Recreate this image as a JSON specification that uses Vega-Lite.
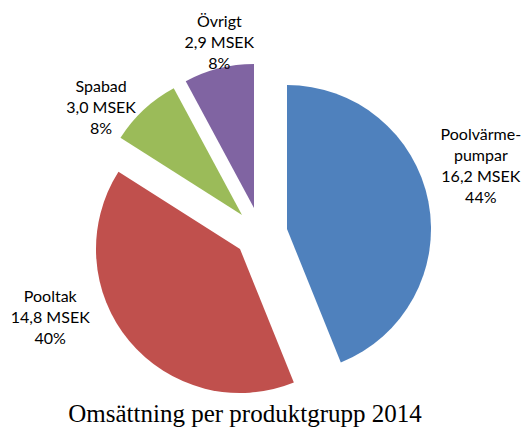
{
  "$schema": "https://vega.github.io/schema/vega-lite/v6.json",
  "width": 520,
  "height": 390,
  "autosize": {"type": "none"},
  "padding": {"left": 0, "top": 38, "right": 4, "bottom": 0},
  "background": "white",
  "view": {"stroke": null},
  "title": {
    "text": "Omsättning per produktgrupp 2014",
    "orient": "bottom",
    "frame": "group",
    "anchor": "middle",
    "offset": -6,
    "baseline": "alphabetic",
    "dx": -15,
    "font": "Liberation Serif",
    "fontSize": 25,
    "fontWeight": "normal",
    "color": "#000000"
  },
  "data": {
    "values": [
      {"name": "Poolvärmepumpar", "order": 1, "value": 16.2, "label": "Poolvärme-\npumpar\n16,2 MSEK\n44%"},
      {"name": "Pooltak", "order": 2, "value": 14.8, "label": "Pooltak\n14,8 MSEK\n40%"},
      {"name": "Spabad", "order": 3, "value": 3.0, "label": "Spabad\n3,0 MSEK\n8%"},
      {"name": "Övrigt", "order": 4, "value": 2.9, "label": "Övrigt\n2,9 MSEK\n8%"}
    ]
  },
  "encoding": {
    "theta": {"field": "value", "type": "quantitative", "stack": true},
    "order": {"field": "order", "type": "quantitative"}
  },
  "layer": [
    {
      "mark": {"type": "arc", "outerRadius": 144, "xOffset": 27, "yOffset": -4},
      "encoding": {
        "color": {"field": "name", "type": "nominal", "legend": null, "scale": {"domain": ["Poolvärmepumpar", "Pooltak", "Spabad", "Övrigt"], "range": ["#4F81BD", "#C0504D", "#9BBB59", "#8064A2"]}},
        "opacity": {"condition": {"test": "datum.name === 'Poolvärmepumpar'", "value": 1}, "value": 0}
      }
    },
    {
      "mark": {"type": "arc", "outerRadius": 144, "xOffset": -20, "yOffset": 16},
      "encoding": {
        "color": {"field": "name", "type": "nominal", "legend": null},
        "opacity": {"condition": {"test": "datum.name === 'Pooltak'", "value": 1}, "value": 0}
      }
    },
    {
      "mark": {"type": "arc", "outerRadius": 144, "xOffset": -18, "yOffset": -18},
      "encoding": {
        "color": {"field": "name", "type": "nominal", "legend": null},
        "opacity": {"condition": {"test": "datum.name === 'Spabad'", "value": 1}, "value": 0}
      }
    },
    {
      "mark": {"type": "arc", "outerRadius": 144, "xOffset": -6, "yOffset": -25},
      "encoding": {
        "color": {"field": "name", "type": "nominal", "legend": null},
        "opacity": {"condition": {"test": "datum.name === 'Övrigt'", "value": 1}, "value": 0}
      }
    },
    {
      "mark": {"type": "text", "radius": 229, "dx": -4, "dy": -54, "font": "Lato", "fontSize": 16, "lineHeight": 21, "lineBreak": "\n", "align": "center", "baseline": "middle", "color": "#000000"},
      "encoding": {"text": {"condition": {"test": "datum.name === 'Poolvärmepumpar'", "field": "label"}, "value": ""}}
    },
    {
      "mark": {"type": "text", "radius": 213, "dx": -46, "dy": -72, "font": "Lato", "fontSize": 16, "lineHeight": 21, "lineBreak": "\n", "align": "center", "baseline": "middle", "color": "#000000"},
      "encoding": {"text": {"condition": {"test": "datum.name === 'Pooltak'", "field": "label"}, "value": ""}}
    },
    {
      "mark": {"type": "text", "radius": 201, "dx": -22, "dy": 1, "font": "Lato", "fontSize": 16, "lineHeight": 21, "lineBreak": "\n", "align": "center", "baseline": "middle", "color": "#000000"},
      "encoding": {"text": {"condition": {"test": "datum.name === 'Spabad'", "field": "label"}, "value": ""}}
    },
    {
      "mark": {"type": "text", "radius": 195, "dx": 7, "dy": -22, "font": "Lato", "fontSize": 16, "lineHeight": 21, "lineBreak": "\n", "align": "center", "baseline": "middle", "color": "#000000"},
      "encoding": {"text": {"condition": {"test": "datum.name === 'Övrigt'", "field": "label"}, "value": ""}}
    }
  ]
}
